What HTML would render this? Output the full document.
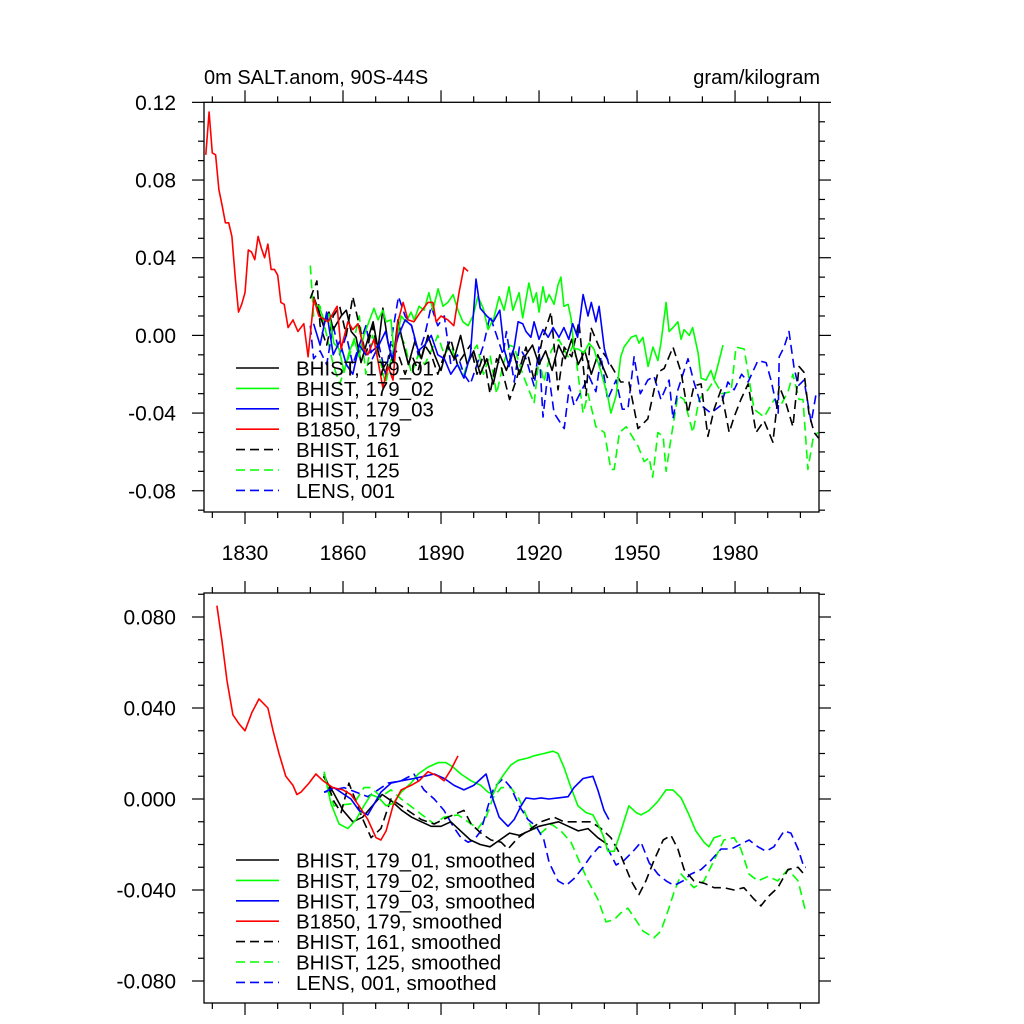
<!DOCTYPE html>
<html><head><meta charset="utf-8"><style>
html,body{margin:0;padding:0;background:#fff;}
svg{display:block;font-family:"Liberation Sans",sans-serif;}
</style></head><body>
<svg id="chart" width="1024" height="1024" viewBox="0 0 1024 1024" xmlns="http://www.w3.org/2000/svg">
<rect width="1024" height="1024" fill="#fff"/>
<text x="204" y="84" font-size="20">0m SALT.anom, 90S-44S</text>
<text x="820" y="84" font-size="20" text-anchor="end">gram/kilogram</text>
</svg>
<script>
// ---------- data: top panel (raw annual) ----------
const redYears=[1818,1819,1820,1821,1822,1823,1824,1825,1826,1827,1828,1829,1830,1831,1832,1833,1834,1835,1836,1837,1838,1839,1840,1841,1842,1843.2,1844.7,1846.2,1848,1849.3,1851.1,1852.6,1855.4,1858.2,1859.4,1861.5,1863,1864.6,1866.4,1867.6,1869.5,1872.2,1873.8,1875.3,1876.8,1878.4,1879.9,1881.7,1883.3,1886,1887.5,1888.5,1890,1892.1,1893.9,1895.5,1897,1898.3];
const redVals=[0.093,0.115,0.094,0.093,0.075,0.067,0.058,0.058,0.051,0.030,0.012,0.016,0.022,0.044,0.043,0.039,0.051,0.045,0.040,0.047,0.034,0.034,0.031,0.017,0.016,0.004,0.008,0.002,0.006,-0.011,0.019,0.010,0.007,0.015,-0.007,0.007,0.003,0.006,-0.007,-0.010,-0.002,-0.027,-0.016,-0.023,0.007,0.017,0.008,0.007,0.011,0.017,0.017,0.007,0.010,0.008,0.005,0.022,0.035,0.033];

const g2Years=[1851,1852.6,1854.2,1855.7,1857.2,1858.8,1860.3,1861.8,1863.4,1864.9,1866.4,1868.6,1869.5,1870.7,1872.2,1873.2,1874.7,1875.6,1877.8,1879.3,1880.8,1881.8,1883.3,1884.8,1886.3,1887.5,1889.1,1890.6,1892.1,1893.7,1895.2,1896.7,1898.3,1899.8,1901.3,1902.9,1904.4,1906.2,1907.8,1909.3,1910.8,1912,1913.9,1915,1916.9,1918.2,1919.2,1920,1921.2,1922.1,1923.1,1924.6,1925.8,1926.7,1927.6,1928.9,1929.8,1930.7,1932,1933.8,1935.3,1936.8,1939,1941,1942,1943.6,1945,1946,1948.2,1949.7,1950.6,1951.8,1953.4,1954.9,1956.4,1957.3,1958.9,1959.8,1961,1962.5,1963.5,1964.4,1966,1967,1968.7,1969.6,1971.1,1972.6,1973.6,1974.8,1976.3];
const g2Vals=[0.016,0.015,0.008,0.011,-0.004,-0.007,-0.019,-0.009,-0.002,-0.011,0.000,0.010,0.014,0.008,0.013,0.007,0.008,-0.009,0.010,0.007,0.012,0.008,0.015,0.013,0.022,0.013,0.024,0.015,0.017,0.021,0.013,0.007,0.005,0.010,0.020,0.014,0.003,0.009,0.020,0.013,0.025,0.013,0.022,0.009,0.027,0.017,0.022,0.012,0.025,0.017,0.021,0.016,0.026,0.030,0.015,0.016,0.009,-0.007,-0.007,-0.009,-0.004,-0.007,-0.019,-0.031,-0.040,-0.031,-0.011,-0.006,-0.001,0.000,-0.004,-0.001,-0.016,-0.006,-0.013,-0.004,0.017,0.002,0.004,0.007,-0.002,0.003,0.000,0.004,-0.009,-0.022,-0.023,-0.018,-0.023,-0.015,-0.005];

const b1Years=[1851,1852.5,1854,1855.7,1857,1859.4,1861,1862.5,1864,1865.5,1867.6,1869.2,1870.7,1872.2,1873.8,1875.3,1876.8,1878.5,1880,1882,1884,1886,1888,1890,1892,1894,1896,1898,1900,1902,1904,1906,1908,1910,1912,1914,1916,1918,1920,1922,1924,1926,1928,1930,1932,1934,1936,1938,1940,1941];
const b1Vals=[0.020,0.013,0.005,0.012,0.003,0.010,0.013,0.002,-0.001,-0.014,-0.002,0.007,-0.007,0.014,-0.004,-0.014,0.008,-0.005,-0.015,-0.003,-0.012,0.000,-0.010,-0.018,-0.005,-0.012,0.000,-0.015,-0.008,-0.020,-0.012,-0.025,-0.010,-0.018,-0.008,-0.020,-0.010,-0.005,-0.015,-0.008,-0.018,-0.005,-0.012,-0.002,-0.015,-0.008,-0.020,-0.010,-0.018,-0.022];

const b3Years=[1851,1853,1855,1857,1859,1861,1863,1865,1867,1869,1871,1873,1875,1877,1879,1881,1883,1885,1887,1889,1891,1893,1895,1897,1899,1900.7,1902,1904,1906,1908,1909.3,1910.8,1912.4,1913.6,1915,1916,1917.5,1918.5,1920,1921.2,1922.8,1924.3,1926.1,1927.6,1929.1,1930.3,1931.8,1933.5,1935,1936,1937.4,1938.4,1940,1941.4];
const b3Vals=[0.006,-0.005,0.012,-0.010,-0.003,-0.015,-0.020,-0.005,-0.010,-0.008,-0.005,0.002,-0.012,0.000,0.008,0.005,-0.008,-0.005,0.000,-0.010,-0.012,-0.020,-0.015,-0.022,-0.010,0.029,0.014,0.010,0.007,0.013,-0.007,-0.016,-0.006,0.007,0.006,0.002,-0.001,0.007,-0.002,0.003,-0.001,0.004,-0.001,0.004,-0.002,0.006,-0.001,0.021,0.010,0.017,0.007,0.015,-0.007,-0.015];

const bd161Years=[1850,1852,1853,1855,1857,1859,1861,1863,1865,1867,1869,1871,1873,1875,1877,1879,1881,1883,1885,1887,1889,1891,1893,1895,1897,1899,1901,1903,1905,1907,1908.4,1911,1913,1916,1918.5,1921,1923.7,1925.8,1927.7,1930,1932.2,1934.4,1935.9,1938.4,1940.5,1945,1947.5,1950.3,1953.3,1956.4,1958.3,1961,1963.5,1965.6,1967.4,1969.6,1971.7,1973.6,1975.7,1978.2,1979.7,1981.8,1984,1986.4,1988.9,1991.6,1993.5,1995.6,1997.7,1999.6,2001.1,2002.6,2004.2,2005.6];
const bd161Vals=[0.019,0.028,0.005,-0.005,0.010,0.015,0.000,0.020,0.005,-0.010,0.005,-0.010,-0.020,-0.005,-0.010,-0.020,-0.010,-0.018,-0.005,-0.010,-0.020,-0.010,-0.002,-0.015,-0.010,-0.005,-0.020,-0.010,-0.030,-0.012,-0.016,-0.033,-0.023,-0.006,-0.023,-0.002,0.012,-0.028,-0.006,-0.011,0.007,-0.031,0.004,-0.006,-0.011,-0.024,-0.024,-0.048,-0.043,-0.019,-0.017,-0.006,-0.019,-0.040,-0.026,-0.025,-0.052,-0.038,-0.028,-0.050,-0.042,-0.033,-0.025,-0.050,-0.044,-0.055,-0.026,-0.035,-0.047,-0.016,-0.019,-0.040,-0.050,-0.053];

const gd125Years=[1850,1851,1853,1855,1857,1859,1861,1863,1865,1867,1869,1871,1873,1875,1877,1879,1881,1883,1885,1887,1889,1891,1893,1895,1897,1899,1901,1903,1905,1907,1909,1911,1912.4,1915,1918.5,1920,1921.5,1923.7,1926,1928.9,1930.7,1933.5,1935,1937.4,1940,1942,1943,1944.6,1946.7,1950.3,1952.2,1953.7,1954.8,1956.4,1958,1958.9,1960.4,1962.5,1964.4,1967.1,1969,1971.7,1973.6,1976,1978.8,1980.3,1982.8,1985.8,1988.9,1992,1994,1996.2,1997.7,1999.6,2000.8,2002.3,2003.9,2005.4];
const gd125Vals=[0.036,0.010,0.015,0.000,-0.015,-0.025,-0.015,-0.005,0.010,-0.020,0.000,-0.010,-0.025,-0.010,0.002,-0.005,-0.020,-0.010,-0.015,-0.008,0.000,-0.010,-0.005,-0.015,-0.020,-0.010,-0.005,-0.020,-0.010,-0.030,-0.015,-0.005,-0.006,-0.020,-0.035,-0.012,-0.024,-0.008,-0.002,-0.011,-0.004,-0.040,-0.030,-0.047,-0.050,-0.069,-0.069,-0.050,-0.047,-0.057,-0.065,-0.063,-0.073,-0.050,-0.052,-0.070,-0.053,-0.031,-0.033,-0.050,-0.033,-0.028,-0.023,-0.030,-0.029,-0.006,-0.007,-0.038,-0.042,-0.033,-0.036,-0.029,-0.020,-0.033,-0.033,-0.069,-0.053,-0.050];

const bdLensYears=[1850,1851,1853,1855,1857,1859,1861,1863,1865,1867,1869,1871,1873,1875,1877,1879,1881,1883,1885,1887,1889,1891,1893,1895,1897,1899,1901,1903,1905,1907,1909,1910,1912.4,1914,1916,1918.5,1920,1921.2,1922.8,1924.6,1927.7,1929.3,1930.7,1932.5,1935.3,1937.4,1939,1941,1943.6,1945.5,1947.2,1949.1,1951,1953.3,1955.2,1957.3,1959.8,1961,1962.5,1965.6,1967.4,1969.6,1972.6,1975.7,1977.8,1979.7,1982,1984,1987,1989.5,1991,1993.2,1993.5,1995,1996.5,1998,1999.3,2001.1,2003.3,2004.8,2006];
const bdLensVals=[0.005,-0.012,-0.008,-0.015,0.005,-0.010,0.000,-0.015,-0.005,0.005,-0.012,-0.005,-0.020,0.000,0.020,0.010,0.005,-0.010,0.000,0.015,0.005,0.010,-0.015,-0.010,-0.020,-0.025,-0.015,-0.005,0.010,0.000,-0.010,0.002,-0.024,-0.006,-0.012,-0.026,-0.006,-0.042,-0.018,-0.040,-0.048,-0.026,-0.036,-0.030,-0.021,-0.029,-0.011,-0.033,-0.023,-0.038,-0.038,-0.011,-0.030,-0.023,-0.021,-0.033,-0.023,-0.043,-0.028,-0.012,-0.024,-0.036,-0.040,-0.036,-0.024,-0.028,-0.020,-0.024,-0.013,-0.014,-0.023,-0.040,-0.011,-0.006,0.002,-0.016,-0.026,-0.023,-0.045,-0.030,-0.031];

// ---------- data: bottom panel (smoothed) ----------
const sRedYears=[1821.4,1822.9,1824.5,1826.3,1828.2,1830,1832.1,1834.3,1837,1838.6,1840.4,1842.5,1844.7,1845.9,1847.1,1849.6,1851.7,1853.9,1856.9,1860,1862.4,1864.9,1867.6,1870.1,1871.6,1873.2,1875.3,1877.8,1880.8,1883.3,1886,1889.1,1890.9,1893.1,1895.2];
const sRedVals=[0.085,0.070,0.052,0.037,0.033,0.030,0.038,0.044,0.040,0.030,0.020,0.010,0.006,0.002,0.003,0.007,0.011,0.008,0.005,0.004,0.002,-0.003,-0.009,-0.017,-0.018,-0.014,-0.003,0.004,0.006,0.008,0.012,0.010,0.008,0.013,0.019];

const sG2Years=[1854.2,1856.3,1858.8,1861.5,1864,1866.4,1868.6,1871,1873.2,1875.3,1877.8,1880.8,1883,1886,1889.1,1891.5,1893.7,1896.1,1899.2,1902.2,1904.4,1905.9,1907.4,1909.3,1911.4,1913.6,1916.6,1918.5,1921.5,1924.3,1925.8,1927.6,1929.8,1931.9,1934.4,1936.5,1938,1939.6,1941.1,1943,1945.1,1947.5,1949.7,1951.2,1953.7,1956.4,1958.9,1961,1963.5,1965.6,1968,1970.5,1972,1973.6,1975.7];
const sG2Vals=[0.012,-0.002,-0.011,-0.013,-0.009,-0.003,0.002,0.0005,-0.003,-0.002,0.003,0.007,0.011,0.014,0.016,0.016,0.014,0.011,0.008,0.006,0.003,0.002,0.007,0.011,0.015,0.017,0.018,0.019,0.020,0.021,0.020,0.014,0.005,-0.003,-0.006,-0.007,-0.011,-0.016,-0.023,-0.023,-0.014,-0.003,-0.006,-0.007,-0.005,-0.001,0.004,0.004,0.0005,-0.006,-0.014,-0.019,-0.021,-0.017,-0.016];

const sB3Years=[1854.2,1857.2,1862.4,1864.9,1867.6,1871.6,1874.7,1877.8,1881.7,1884.8,1887.9,1891,1894,1897,1900,1903.8,1906,1907.8,1910.5,1912.4,1914.5,1916,1918.5,1920.6,1923,1925.8,1928.9,1930.7,1933.5,1936.5,1938,1939.9,1941.4];
const sB3Vals=[0.003,0.005,0.000,-0.005,-0.007,0.003,0.007,0.008,0.009,0.010,0.011,0.009,0.006,0.004,0.006,0.011,-0.0005,-0.008,-0.012,-0.009,-0.003,0.0005,0.000,0.0005,0.000,0.0005,0.001,0.005,0.009,0.010,0.004,-0.005,-0.009];

const sB1Years=[1854,1857,1860,1863,1866,1869,1872,1875,1878,1881,1884,1887,1890,1893,1896,1899,1902,1905,1908,1911,1914,1917,1920,1923,1926,1929,1932,1935,1938,1941];
const sB1Vals=[0.010,0.003,-0.005,-0.010,-0.008,-0.003,0.002,-0.001,-0.005,-0.008,-0.010,-0.012,-0.012,-0.010,-0.014,-0.018,-0.020,-0.021,-0.018,-0.015,-0.016,-0.014,-0.012,-0.011,-0.010,-0.012,-0.014,-0.013,-0.017,-0.020];

const sBd161Years=[1854.2,1857.2,1859.4,1861.8,1866.1,1868.6,1871.6,1874.7,1877.8,1880.8,1883.9,1887.9,1892.1,1897,1899.2,1902.2,1905.3,1908.4,1910.5,1913.6,1917.5,1920.6,1924.6,1927.6,1932.2,1935.9,1939,1942,1945.1,1948.2,1950.6,1952.7,1955.2,1958,1960.4,1962.5,1964.4,1967.4,1970.5,1973.6,1976.6,1979.7,1982.7,1985.8,1987.9,1990.1,1993.1,1996.2,1999.3,2001.7];
const sBd161Vals=[0.011,-0.001,-0.006,0.007,-0.009,-0.017,-0.013,0.000,-0.003,-0.006,-0.009,-0.011,-0.008,-0.005,-0.011,-0.015,-0.018,-0.019,-0.022,-0.017,-0.013,-0.010,-0.008,-0.010,-0.010,-0.010,-0.013,-0.017,-0.025,-0.036,-0.042,-0.036,-0.027,-0.018,-0.016,-0.022,-0.031,-0.036,-0.037,-0.039,-0.039,-0.040,-0.039,-0.044,-0.047,-0.043,-0.039,-0.031,-0.030,-0.034];

const sGd125Years=[1854.2,1857.2,1863.4,1866.4,1868.6,1871.6,1874.7,1877.8,1887.9,1890.9,1895.2,1898.3,1901.3,1903.8,1905.9,1908.4,1911.4,1913.9,1917.5,1920.6,1923.7,1926.7,1929.8,1932.2,1935,1938,1940.5,1943,1945.1,1947.2,1949.1,1951.8,1955.2,1957.3,1959.5,1961.3,1963.5,1967.4,1970.5,1973.6,1976.6,1979.7,1981.8,1984.3,1987,1990.1,1993.1,1996.2,1999.3,2001.7];
const sGd125Vals=[0.011,-0.003,-0.002,0.005,0.005,0.001,0.004,0.000,-0.011,-0.008,-0.007,-0.010,-0.013,-0.008,0.0005,0.005,0.005,0.000,-0.012,-0.015,-0.011,-0.014,-0.019,-0.027,-0.036,-0.044,-0.054,-0.053,-0.050,-0.048,-0.052,-0.058,-0.061,-0.058,-0.049,-0.041,-0.033,-0.039,-0.036,-0.027,-0.018,-0.017,-0.022,-0.033,-0.036,-0.034,-0.036,-0.031,-0.036,-0.050];

const sBdLensYears=[1854.2,1860.3,1867.6,1870.7,1873.8,1877.8,1881.7,1884.8,1887.9,1890.9,1893.7,1896.1,1898.3,1900.1,1902.2,1904.4,1906.2,1909,1911.4,1913.9,1916.6,1919.1,1921.5,1923.1,1925.8,1928.3,1930.7,1933.5,1935.9,1938.4,1941.1,1943.6,1946,1948.8,1951.2,1953.7,1956.4,1958.9,1961.3,1964.1,1966.5,1969.6,1972.6,1975.7,1978.8,1984.3,1987,1989.5,1991.9,1995,1997.1,1999.3,2001.1,2001.7];
const sBdLensVals=[0.003,0.005,0.001,0.004,0.007,0.008,0.011,0.004,0.000,-0.005,-0.012,-0.017,-0.019,-0.018,-0.014,-0.003,0.005,0.009,0.005,-0.003,-0.009,-0.012,-0.018,-0.028,-0.036,-0.038,-0.035,-0.030,-0.025,-0.021,-0.022,-0.029,-0.027,-0.023,-0.019,-0.028,-0.033,-0.036,-0.038,-0.036,-0.033,-0.031,-0.027,-0.022,-0.022,-0.018,-0.021,-0.023,-0.021,-0.014,-0.015,-0.022,-0.030,-0.030];

const topTicks=[0.12,0.08,0.04,0.00,-0.04,-0.08];
const topTickLabels=["0.12","0.08","0.04","0.00","-0.04","-0.08"];
const botTicks=[0.08,0.04,0.0,-0.04,-0.08];
const botTickLabels=["0.080","0.040","0.000","-0.040","-0.080"];
const xTicks=[1830,1860,1890,1920,1950,1980];
const xTickLabels=["1830","1860","1890","1920","1950","1980"];
const legendTop=["BHIST, 179_01","BHIST, 179_02","BHIST, 179_03","B1850, 179","BHIST, 161","BHIST, 125","LENS, 001"];
const legendBot=["BHIST, 179_01, smoothed","BHIST, 179_02, smoothed","BHIST, 179_03, smoothed","B1850, 179, smoothed","BHIST, 161, smoothed","BHIST, 125, smoothed","LENS, 001, smoothed"];

// ---------- rendering ----------
const NS="http://www.w3.org/2000/svg";
const svg=document.getElementById('chart');
const L=204,R=819;
const X0=1817.45,PXY=3.267;
function xs(y){return L+(y-X0)*PXY;}
const topP={t:102.3,b:512,zero:335.4,k:1942};
const botP={t:593,b:1003,zero:799,k:2275};
function ys(p,v){return p.zero-v*p.k;}
function mk(tag,attrs){const e=document.createElementNS(NS,tag);for(const k in attrs)e.setAttribute(k,attrs[k]);return e;}
const COLORS=["#000","#00ff00","#0000ff","#ff0000","#000","#00ff00","#0000ff"];
const DASH=[null,null,null,null,"9,5","9,5","9,5"];

function drawAxes(p,name,ticks,labels,showX){
  const g=mk('g',{});
  
  
  svg.appendChild(g);
  const box=mk('rect',{x:L,y:p.t,width:R-L,height:p.b-p.t,fill:'none',stroke:'#000','stroke-width':1.3});
  
  
  g.appendChild(box);
  for(let i=-9;i<=12;i++){
    const v=i/100; const y=ys(p,v);
    if(y<p.t-0.5||y>p.b+0.5)continue;
    const major=ticks.some(t=>Math.abs(t-v)<1e-6);
    const len=major?12:6;
    g.appendChild(mk('line',{x1:L-len,y1:y,x2:L,y2:y,stroke:'#000','stroke-width':1.2}));
    g.appendChild(mk('line',{x1:R,y1:y,x2:R+len,y2:y,stroke:'#000','stroke-width':1.2}));
  }
  ticks.forEach((v,i)=>{
    const t=mk('text',{x:176,y:ys(p,v)+7.5,'font-size':21,'text-anchor':'end'});
    t.textContent=labels[i];
    
    
    g.appendChild(t);
  });
  for(let yr=1820;yr<=2000;yr+=10){
    const x=xs(yr);
    const major=xTicks.indexOf(yr)>=0;
    const len=major?12:6;
    g.appendChild(mk('line',{x1:x,y1:p.b,x2:x,y2:p.b+len,stroke:'#000','stroke-width':1.2}));
    g.appendChild(mk('line',{x1:x,y1:p.t-len,x2:x,y2:p.t,stroke:'#000','stroke-width':1.2}));
  }
  if(showX){
    xTicks.forEach((yr,i)=>{
      const t=mk('text',{x:xs(yr),y:p.b+48,'font-size':21,'text-anchor':'middle'});
      t.textContent=xTickLabels[i];
      
      
      g.appendChild(t);
    });
  }
}

function drawLine(p,years,vals,idx,name){
  let d='';
  for(let i=0;i<years.length;i++){d+=(i?'L':'M')+xs(years[i]).toFixed(1)+','+ys(p,vals[i]).toFixed(1);}
  const path=mk('path',{d:d,fill:'none',stroke:COLORS[idx],'stroke-width':1.6,'stroke-linejoin':'round'});
  if(DASH[idx])path.setAttribute('stroke-dasharray',DASH[idx]);
  
  
  svg.appendChild(path);
}

function drawLegend(names,y0,name){
  const g=mk('g',{});
  
  
  svg.appendChild(g);
  names.forEach((n,i)=>{
    const y=y0+i*20.4;
    const ln=mk('line',{x1:236,y1:y,x2:279,y2:y,stroke:COLORS[i],'stroke-width':1.6});
    if(DASH[i])ln.setAttribute('stroke-dasharray','9,5');
    
    
    g.appendChild(ln);
    const t=mk('text',{x:296,y:y+7.5,'font-size':20.5});
    t.textContent=n;
    
    
    g.appendChild(t);
  });
}

drawAxes(topP,'top',topTicks,topTickLabels,true);
drawAxes(botP,'bottom',botTicks,botTickLabels,false);

drawLine(topP,gd125Years,gd125Vals,5,'bhist-125-line');
drawLine(topP,bdLensYears,bdLensVals,6,'lens-001-line');
drawLine(topP,bd161Years,bd161Vals,4,'bhist-161-line');
drawLine(topP,b1Years,b1Vals,0,'bhist-179-01-line');
drawLine(topP,g2Years,g2Vals,1,'bhist-179-02-line');
drawLine(topP,b3Years,b3Vals,2,'bhist-179-03-line');
drawLine(topP,redYears,redVals,3,'b1850-179-line');

drawLine(botP,sGd125Years,sGd125Vals,5,'bhist-125-smoothed-line');
drawLine(botP,sBdLensYears,sBdLensVals,6,'lens-001-smoothed-line');
drawLine(botP,sBd161Years,sBd161Vals,4,'bhist-161-smoothed-line');
drawLine(botP,sB1Years,sB1Vals,0,'bhist-179-01-smoothed-line');
drawLine(botP,sG2Years,sG2Vals,1,'bhist-179-02-smoothed-line');
drawLine(botP,sB3Years,sB3Vals,2,'bhist-179-03-smoothed-line');
drawLine(botP,sRedYears,sRedVals,3,'b1850-179-smoothed-line');

drawLegend(legendTop,368,'top-legend');
drawLegend(legendBot,860,'bottom-legend');
</script>
</body></html>
